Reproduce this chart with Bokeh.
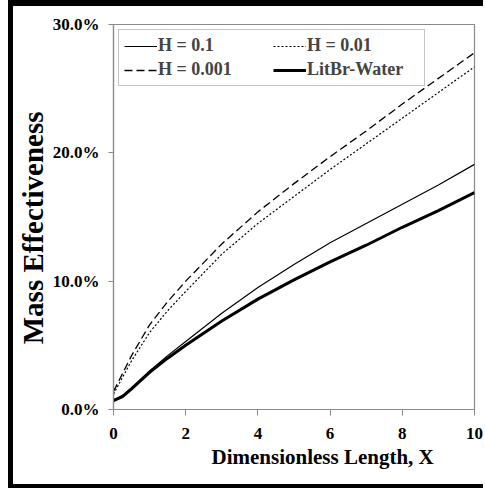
from bokeh.plotting import figure
from bokeh.layouts import row, column
from bokeh.models import Range1d, Legend, LegendItem, Title, FixedTicker, PrintfTickFormatter, Spacer
from bokeh.embed import file_html
from bokeh.resources import INLINE

# ---- data ----
x_vals = [0, 0.25, 0.5, 1, 1.5, 2, 3, 4, 5, 6, 7, 8, 9, 10]
h_0_1 = [0.7, 1.1, 1.7, 3.0, 4.2, 5.3, 7.5, 9.5, 11.3, 13.0, 14.5, 16.0, 17.5, 19.1]
h_0_01 = [1.2, 2.5, 3.8, 6.0, 7.7, 9.2, 12.1, 14.5, 16.6, 18.7, 20.7, 22.7, 24.7, 26.7]
h_0_001 = [1.4, 2.8, 4.2, 6.6, 8.4, 10.0, 12.9, 15.4, 17.6, 19.7, 21.7, 23.8, 25.8, 27.8]
libr = [0.7, 1.0, 1.6, 2.9, 4.0, 5.0, 6.9, 8.6, 10.1, 11.5, 12.8, 14.2, 15.5, 16.9]

labels = ["H = 0.1", "H = 0.01", "H = 0.001", "LitBr-Water"]
x_ticks = [0, 2, 4, 6, 8, 10]
y_ticks = [0, 10, 20, 30]
x_title = "Dimensionless Length, X"
y_title = "Mass Effectiveness"

FONT = "Liberation Serif"
W, H = 470, 478

fig = figure(width=W, height=H, output_backend="svg", toolbar_location=None,
             x_range=Range1d(0, 10), y_range=Range1d(0, 30),
             min_border_left=94, min_border_right=9, min_border_top=18, min_border_bottom=75)
fig.background_fill_color = "white"
fig.border_fill_color = "white"
fig.outline_line_color = "#8a8a8a"
fig.outline_line_width = 1.2
fig.grid.visible = False

for ax in (fig.xaxis[0], fig.yaxis[0]):
    ax.axis_line_color = "#8a8a8a"
    ax.axis_line_width = 1.2
    ax.major_tick_line_color = "#8a8a8a"
    ax.major_tick_out = 6
    ax.major_tick_in = 0
    ax.minor_tick_line_color = None
    ax.major_label_text_font = FONT
    ax.major_label_text_font_style = "bold"
    ax.major_label_text_font_size = "17px"
    ax.major_label_text_color = "black"

fig.xaxis.ticker = FixedTicker(ticks=x_ticks)
fig.yaxis.ticker = FixedTicker(ticks=y_ticks)
fig.yaxis.formatter = PrintfTickFormatter(format="%.1f%%")
fig.xaxis.major_label_standoff = 12
fig.yaxis.major_label_standoff = 9
fig.yaxis.major_tick_out = 5

r1 = fig.line(x_vals, h_0_1, line_color="black", line_width=1.2)
r2 = fig.line(x_vals, h_0_01, line_color="black", line_width=1.2, line_dash="2 2")
r3 = fig.line(x_vals, h_0_001, line_color="black", line_width=1.3, line_dash="8 4")
r4 = fig.line(x_vals, libr, line_color="black", line_width=3)

legend = Legend(items=[LegendItem(label=labels[0], renderers=[r1]),
                       LegendItem(label=labels[1], renderers=[r2]),
                       LegendItem(label=labels[2], renderers=[r3]),
                       LegendItem(label=labels[3], renderers=[r4])],
                location="top_left", orientation="horizontal", ncols=2,
                margin=5, padding=5, spacing=3,
                glyph_width=33, glyph_height=20, label_height=20, label_width=112,
                label_standoff=1,
                label_text_font=FONT, label_text_font_style="bold",
                label_text_font_size="18px",
                border_line_color="#8a8a8a", border_line_width=1.2,
                background_fill_color="white", background_fill_alpha=1)
fig.add_layout(legend, "center")

fig.add_layout(Title(text=x_title, align="left", offset=98, standoff=2,
                     text_font=FONT, text_font_style="bold", text_font_size="21px",
                     text_color="black"), "below")
fig.add_layout(Title(text=y_title, align="right", offset=87, standoff=2,
                     text_font=FONT, text_font_style="bold", text_font_size="29px",
                     text_color="black"), "left")

# thick black outer frame (left, top, bottom) built from spacers
BLACK = {"background-color": "black"}
top_bar = Spacer(width=W + 5, height=6, styles=BLACK)
left_bar = Spacer(width=5, height=H, styles=BLACK)
bottom_bar = Spacer(width=W + 5, height=4, styles=BLACK)
p = row(Spacer(width=8, height=H + 10),
        column(top_bar, row(left_bar, fig, spacing=0), bottom_bar, spacing=0),
        spacing=0)

open("out.html", "w").write(file_html(p, INLINE))
